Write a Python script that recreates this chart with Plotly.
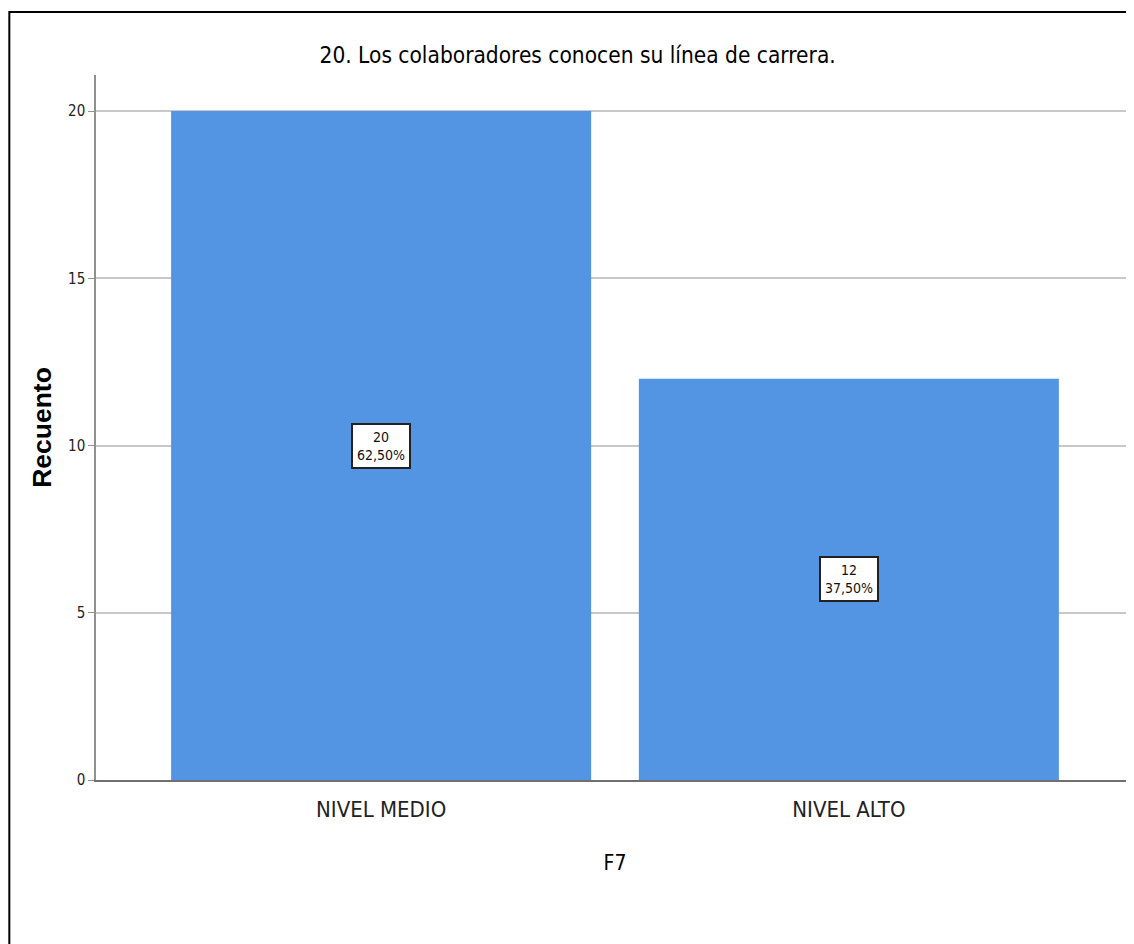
import plotly.graph_objects as go

categories = ["NIVEL MEDIO", "NIVEL ALTO"]
counts = [20, 12]
percents = ["62,50%", "37,50%"]
title_text = "20. Los colaboradores conocen su línea de carrera."
x_title = "F7"
y_title = "Recuento"
y_ticks = [0, 5, 10, 15, 20]

NARROW = "DejaVu Sans Condensed, Liberation Sans Narrow, Arial Narrow, Liberation Sans"

fig = go.Figure()
fig.add_trace(go.Bar(
    x=categories, y=counts, width=0.898,
    marker=dict(color="#5495E3", line=dict(width=0)),
    hoverinfo="skip",
))

for c, v, p in zip(categories, counts, percents):
    fig.add_annotation(
        x=c, y=v / 2, text=f"{v}<br>{p}", showarrow=False,
        font=dict(family=NARROW, size=14, color="#111111"),
        bgcolor="white", bordercolor="#222222", borderwidth=2, borderpad=4,
    )

fig.add_shape(type="rect", xref="paper", yref="paper",
              x0=-0.0835, x1=1.2, y0=-0.4, y1=1.0894,
              line=dict(color="black", width=2), fillcolor="rgba(0,0,0,0)", layer="above")

fig.update_layout(
    width=1134, height=944,
    margin=dict(l=88, r=8, t=67, b=172),
    paper_bgcolor="white", plot_bgcolor="white",
    showlegend=False,
    title=dict(text=title_text, x=0.464, xref="paper", y=1 - 47 / 944, yref="container",
               yanchor="middle", xanchor="center",
               font=dict(family=NARROW, size=22.5, color="black")),
    xaxis=dict(
        type="category", range=[-0.6096, 1.6096],
        showline=True, linecolor="#707070", linewidth=1.5,
        ticks="", showgrid=False, ticklabelstandoff=9,
        tickfont=dict(family=NARROW, size=22, color="#222222"),
        title=dict(text=x_title, font=dict(family=NARROW, size=21, color="black"), standoff=34),
    ),
    yaxis=dict(
        range=[0, 21.08], tickvals=y_ticks,
        showline=True, linecolor="#909090", linewidth=1.5,
        ticks="outside", ticklen=6, tickcolor="#909090",
        showgrid=True, gridcolor="#C8C8C8", gridwidth=1.5,
        zeroline=False,
        tickfont=dict(family=NARROW, size=15, color="#222222"),
        title=dict(text="<b>" + y_title + "</b>", font=dict(family="Liberation Sans, Arial", size=26.5, color="black"),
                   standoff=9),
    ),
)

fig.write_html("out.html")
